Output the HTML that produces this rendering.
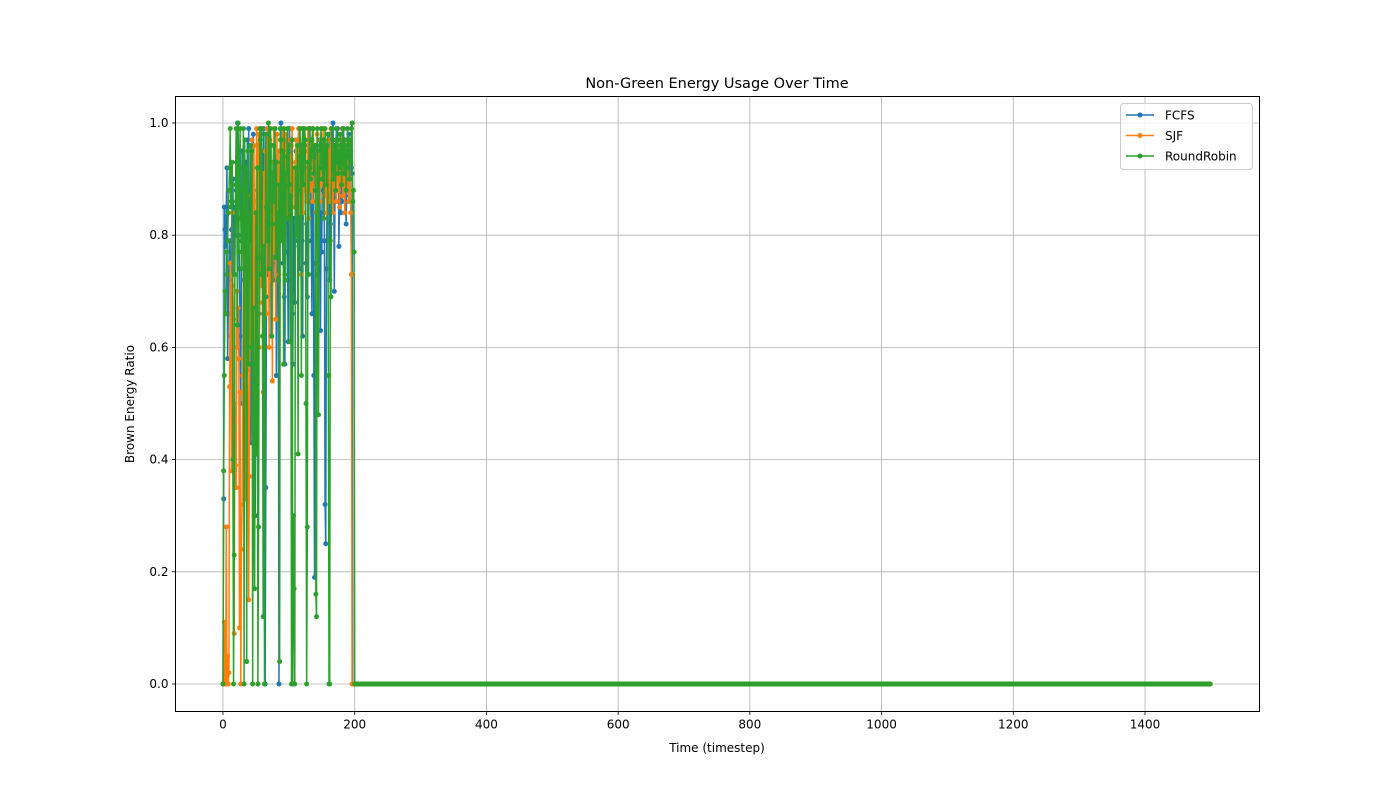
<!DOCTYPE html>
<html><head><meta charset="utf-8"><style>
body{margin:0;background:#fff;font-family:"Liberation Sans","DejaVu Sans",sans-serif}
svg text{font-family:"DejaVu Sans","Liberation Sans",sans-serif;font-size:12px;fill:#000}
</style></head><body>
<svg id="chart" width="1400" height="800" xmlns="http://www.w3.org/2000/svg">
<rect width="1400" height="800" fill="#fff"/>
<text x="717" y="88" text-anchor="middle" style="font-size:14.5px">Non-Green Energy Usage Over Time</text>
<g id="grid"></g>
<g id="series"></g>
<rect x="175.5" y="96.5" width="1084" height="615" fill="none" stroke="#000" stroke-width="1"/>
<g id="axes"></g>
<text x="717" y="752" text-anchor="middle">Time (timestep)</text>
<text transform="translate(134,404) rotate(-90)" text-anchor="middle">Brown Energy Ratio</text>
<g id="legend"></g>
</svg>
<script>
const xTicks=[0,200,400,600,800,1000,1200,1400];
const yTicks=[0,0.2,0.4,0.6,0.8,1.0];
const yTickLabels=["0.0","0.2","0.4","0.6","0.8","1.0"];
const seriesNames=["FCFS","SJF","RoundRobin"];
const totalSteps=1500;
const fcfsActive=[0,0.33,0.85,0.81,0.78,0.85,0.92,0.58,0.66,0.75,0.79,0.72,0.74,0.81,0.86,0.9,0.78,0.73,0.85,0.8,0.88,0.93,1.0,0.85,0.8,0.74,0.62,0.5,0.79,0.95,0.84,0.72,0.89,0.6,0.75,0.93,0.82,0.97,0.88,0.99,0.8,0.65,0.43,0.55,0.84,0.92,0.98,0.71,0.62,0.3,0.55,0.77,0.88,0.96,0.83,0.66,0.79,0.91,0.98,0.86,0.95,0.74,0.99,0.84,0.0,0.35,0.69,0.82,0.73,0.95,0.88,0.99,0.93,0.62,0.79,0.84,0.93,0.72,0.88,0.81,0.94,0.55,0.75,0.93,0.69,0.0,0.82,0.95,1.0,0.9,0.84,0.75,0.79,0.69,0.57,0.97,0.93,0.89,0.77,0.61,0.85,0.99,0.93,0.72,0.91,0.66,0.57,0.83,0.78,0.68,0.92,0.95,0.86,0.79,0.97,0.99,0.74,0.86,0.93,0.83,0.79,0.62,0.99,0.95,0.88,0.92,0.75,0.82,0.69,0.96,0.86,0.93,0.99,0.88,0.79,0.66,0.96,0.89,0.55,0.19,0.75,0.96,0.86,0.73,0.81,0.95,0.92,0.97,0.63,0.84,0.77,0.96,0.88,0.96,0.79,0.32,0.25,0.74,0.87,0.91,0.94,0.98,0.72,0.82,0.99,0.88,0.96,1.0,0.92,0.7,0.86,0.97,0.96,0.93,0.99,0.94,0.78,0.88,0.92,0.84,0.97,0.86,0.91,0.99,0.95,0.92,0.87,0.82,0.89,0.96,0.93,0.98,0.86,0.9,0.95,0.92,0.91];
const sjfActive=[0,0.0,0.11,0.0,0.0,0.28,0.0,0.05,0.0,0.02,0.53,0.75,0.62,0.38,0.84,0.71,0.65,0.09,0.5,0.39,0.35,0.7,0.6,0.67,0.58,0.1,0.52,0.0,0.24,0.32,0.55,0.78,0.58,0.73,0.33,0.61,0.47,0.87,0.56,0.15,0.37,0.68,0.77,0.79,0.97,0.81,0.62,0.96,0.72,0.47,0.86,0.99,0.74,0.92,0.98,0.6,0.68,0.99,0.71,0.86,0.79,0.52,0.91,0.77,0.95,0.84,0.66,0.99,0.81,0.89,0.6,0.97,0.93,0.72,0.85,0.54,0.87,0.99,0.77,0.93,0.65,0.88,0.98,0.81,0.95,0.73,0.86,0.97,0.9,0.82,0.96,0.99,0.85,0.88,0.92,0.95,0.98,0.86,0.83,0.97,0.91,0.94,0.87,0.84,0.96,0.99,0.89,0.92,0.85,0.88,0.93,0.97,0.9,0.86,0.95,0.99,0.88,0.84,0.92,0.73,0.96,0.89,0.84,0.93,0.97,0.88,0.91,0.86,0.95,0.99,0.83,0.9,0.94,0.88,0.96,0.92,0.86,0.99,0.95,0.91,0.89,0.84,0.93,0.98,0.88,0.92,0.95,0.86,0.9,0.97,0.94,0.89,0.99,0.92,0.87,0.96,0.9,0.84,0.93,0.88,0.97,0.91,0.86,0.95,0.99,0.89,0.92,0.84,0.96,0.88,0.93,0.9,0.86,0.97,0.94,0.88,0.91,0.85,0.96,0.92,0.89,0.99,0.87,0.93,0.9,0.84,0.96,0.91,0.88,0.95,0.92,0.86,0.97,0.9,0.84,0.73];
const rrActive=[0,0.38,0.55,0.7,0.66,0.77,0.73,0.79,0.84,0.88,
0.92,0.99,0.85,0.86,0.93,0.4,0.0,0.23,0.73,0.89,
0.99,0.86,0.64,1.0,0.77,0.92,0.99,0.83,0.74,0.79,
0.88,0.99,0.0,0.97,0.75,0.92,0.04,0.84,0.95,0.57,
0.83,0.79,0.96,0.6,0.95,0.0,0.67,0.3,0.17,0.57,
0.84,0.41,0.92,0.0,0.28,0.76,0.99,0.97,0.73,0.99,
0.62,0.12,0.78,0.0,0.69,0.98,0.85,0.79,0.79,1.0,
0.74,0.89,0.99,0.96,0.62,0.82,0.91,0.96,0.86,0.99,
0.76,0.93,0.77,0.84,0.72,0.89,0.04,0.99,0.97,0.79,
0.86,0.95,0.57,0.99,0.73,0.72,0.91,0.94,0.99,0.83,
0.96,0.89,0.61,0.87,0.0,0.97,0.0,0.3,0.17,0.0,
0.92,0.85,0.8,0.96,0.41,0.88,0.94,0.99,0.93,0.55,
0.96,0.99,0.89,0.95,0.99,0.97,0.5,0.0,0.28,0.93,
0.73,0.99,0.92,0.9,0.95,0.97,0.99,0.94,0.91,0.96,
0.88,0.16,0.12,0.99,0.95,0.48,0.9,0.92,0.96,0.99,
0.93,0.9,0.97,0.83,0.92,0.99,0.94,0.89,0.96,0.98,
0.55,0.0,0.0,0.79,0.69,0.99,0.97,0.92,0.9,0.96,
0.94,0.88,0.99,0.93,0.97,0.91,0.95,0.92,0.98,0.96,
0.89,0.94,0.99,0.93,0.91,0.97,0.95,0.88,0.92,0.99,
0.96,0.94,0.9,0.97,0.93,0.99,1.0,0.86,0.88,0.77];
const colors=["#1f77b4","#ff7f0e","#2ca02c"];
const NS="http://www.w3.org/2000/svg";
const L=175.5,R=1259.5,T=96.5,B=711.5;
const xScale=v=>223+(v/1400)*922;
const yScale=v=>684-v*561;
function el(tag,attrs,parent){const e=document.createElementNS(NS,tag);for(const k in attrs)e.setAttribute(k,attrs[k]);parent.appendChild(e);return e;}
const grid=document.getElementById('grid'),axes=document.getElementById('axes');
xTicks.forEach(t=>{const x=xScale(t);
 const g=el('line',{x1:x,x2:x,y1:T,y2:B,stroke:'#b0b0b0','stroke-width':0.8},grid);
 
 const tk=el('line',{x1:x,x2:x,y1:B,y2:B+3.5,stroke:'#000','stroke-width':0.8},axes);
 
 const tx=el('text',{x:x,y:B+17,'text-anchor':'middle'},axes);tx.textContent=t;
 });
yTicks.forEach((t,i)=>{const y=yScale(t);
 const g=el('line',{x1:L,x2:R,y1:y,y2:y,stroke:'#b0b0b0','stroke-width':0.8},grid);
 
 const tk=el('line',{x1:L-3.5,x2:L,y1:y,y2:y,stroke:'#000','stroke-width':0.8},axes);
 
 const tx=el('text',{x:L-7,y:y+4,'text-anchor':'end'},axes);tx.textContent=yTickLabels[i];
 });
const sg=document.getElementById('series');
[fcfsActive,sjfActive,rrActive].forEach((arr,si)=>{
 const g=el('g',{},sg);
 
 
 const vals=[];for(let t=0;t<totalSteps;t++)vals.push(t<arr.length?arr[t]:0);
 const d=vals.map((v,t)=>(t?'L':'M')+xScale(t).toFixed(2)+' '+yScale(v).toFixed(2)).join('');
 const p=el('path',{d:d,fill:'none',stroke:colors[si],'stroke-width':1.5,'stroke-linejoin':'round'},g);
 
 
 vals.forEach((v,t)=>{const c=el('circle',{cx:xScale(t),cy:yScale(v),r:2.5,fill:colors[si]},g);
  
  });
});
const lg=document.getElementById('legend');
const box=el('rect',{x:1120.5,y:103.5,width:132,height:66,rx:3,fill:'#fff','fill-opacity':0.8,stroke:'#ccc'},lg);

seriesNames.forEach((n,i)=>{const y=115+i*20.5;
 const ln=el('line',{x1:1126,x2:1154,y1:y,y2:y,stroke:colors[i],'stroke-width':1.5},lg);
 
 const c=el('circle',{cx:1140,cy:y,r:2.5,fill:colors[i]},lg);
 
 const t=el('text',{x:1165,y:y+4.5},lg);t.textContent=n;
 });
</script>
</body></html>
